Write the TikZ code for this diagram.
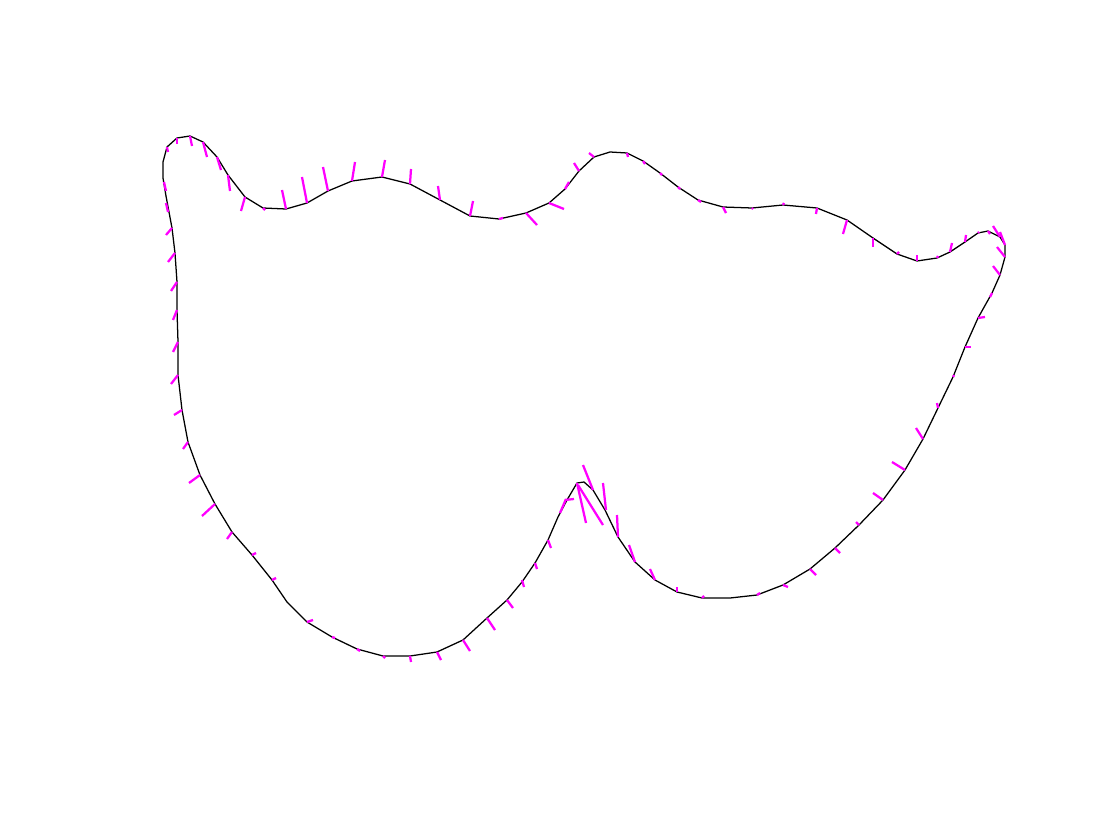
\documentclass[tikz,border=0pt]{standalone}
\definecolor{gradpink}{RGB}{255,0,255}
\begin{document}
\begin{tikzpicture}[x=0.025cm,y=-0.025cm,
  outline/.style={line width=0.9pt,line join=round},
  tickline/.style={gradpink,line width=1.6pt}]
\useasboundingbox (0,0) rectangle (1120,840);

% region boundary
\draw[outline] plot coordinates {(163,162) (167,147) (177,138) (190,136) (203,142) (217,157) (228,175)
  (245,197) (263,208) (286,209) (307,203) (328,191) (352,181) (382,177) (410,184) (440,200)
  (470,216) (499,219) (526,213) (549,203) (565,189) (579,171) (594,157) (610,152) (627,153)
  (643,161) (660,173) (678,187) (698,200) (723,207) (752,208) (783,205) (817,208) (847,220)
  (873,238) (897,254) (917,261) (937,258) (950,252) (965,242) (978,233) (988,231) (1000,237)
  (1005,245) (1005,257) (1000,275) (992,293) (978,318) (965,347) (953,377) (938,408) (923,439)
  (905,470) (883,500) (859,525) (835,548) (810,569) (783,585) (757,595) (730,598) (702,598)
  (677,592) (655,580) (635,562) (618,537) (605,510) (593,490) (584,482) (577,483) (567,500)
  (558,517) (548,540) (535,563) (522,582) (507,600) (487,618) (463,640) (437,652) (410,656)
  (383,656) (357,649) (332,637) (307,622) (287,602) (272,580) (252,555) (232,532) (215,504)
  (200,475) (188,442) (182,410) (178,375) (178,342) (177,310) (177,282) (175,253) (172,228)
  (166,196) (163,178)} -- cycle;

% gradient ticks
\foreach \xa/\ya/\xb/\yb in {
  164/182/166/191, 166/203/168/212, 167/147/168/152, 177/138/177/144, 190/136/192/146,
  203/142/207/157, 217/157/221/170, 228/175/230/191, 245/197/241/211, 263/208/265/210,
  286/209/282/190, 307/203/302/177, 328/191/323/167, 352/181/355/162, 382/177/385/160,
  410/184/411/169, 440/200/438/186, 470/216/473/201, 499/219/503/218, 526/213/537/225,
  549/203/564/209, 565/189/569/182, 579/171/574/163, 594/157/589/153, 627/153/628/157,
  643/161/645/164, 660/173/662/175, 678/187/680/189, 698/200/701/202, 723/207/726/213,
  752/208/753/209, 783/205/784/203, 817/208/816/214, 847/220/843/234, 873/238/873/247,
  897/254/899/252, 917/261/917/255, 937/258/938/256, 950/252/952/243, 965/242/966/235,
  978/233/979/232, 988/231/990/234, 1000/237/993/226, 1005/245/1000/232, 1005/257/997/247,
  1000/275/993/266, 992/293/990/297, 978/318/985/317, 965/347/971/347, 953/377/954/375,
  938/408/937/403, 923/439/916/428, 905/470/892/462, 883/500/873/493, 859/525/856/522,
  835/548/840/553, 810/569/816/575, 783/585/788/587, 757/595/760/593, 702/598/704/596,
  677/592/677/587, 655/580/650/569, 635/562/629/545, 618/537/617/515, 606/510/603/483,
  593/490/583/465, 586/523/577/483, 603/525/578/485, 566/499/560/513, 565/500/574/499,
  548/540/551/548, 535/563/537/569, 522/580/524/587, 507/600/513/608, 487/618/495/630,
  463/640/470/651, 437/652/441/660, 410/656/411/662, 383/656/385/658, 357/649/360/651,
  332/637/335/638, 307/622/313/620, 272/580/276/578, 252/555/256/553, 232/532/227/539,
  215/504/202/516, 200/475/189/483, 188/442/183/449, 182/410/174/415, 178/375/171/384,
  178/342/173/352, 177/310/173/320, 177/282/171/291, 175/253/168/262, 172/228/166/235}
  \draw[tickline] (\xa,\ya) -- (\xb,\yb);
\end{tikzpicture}
\end{document}
